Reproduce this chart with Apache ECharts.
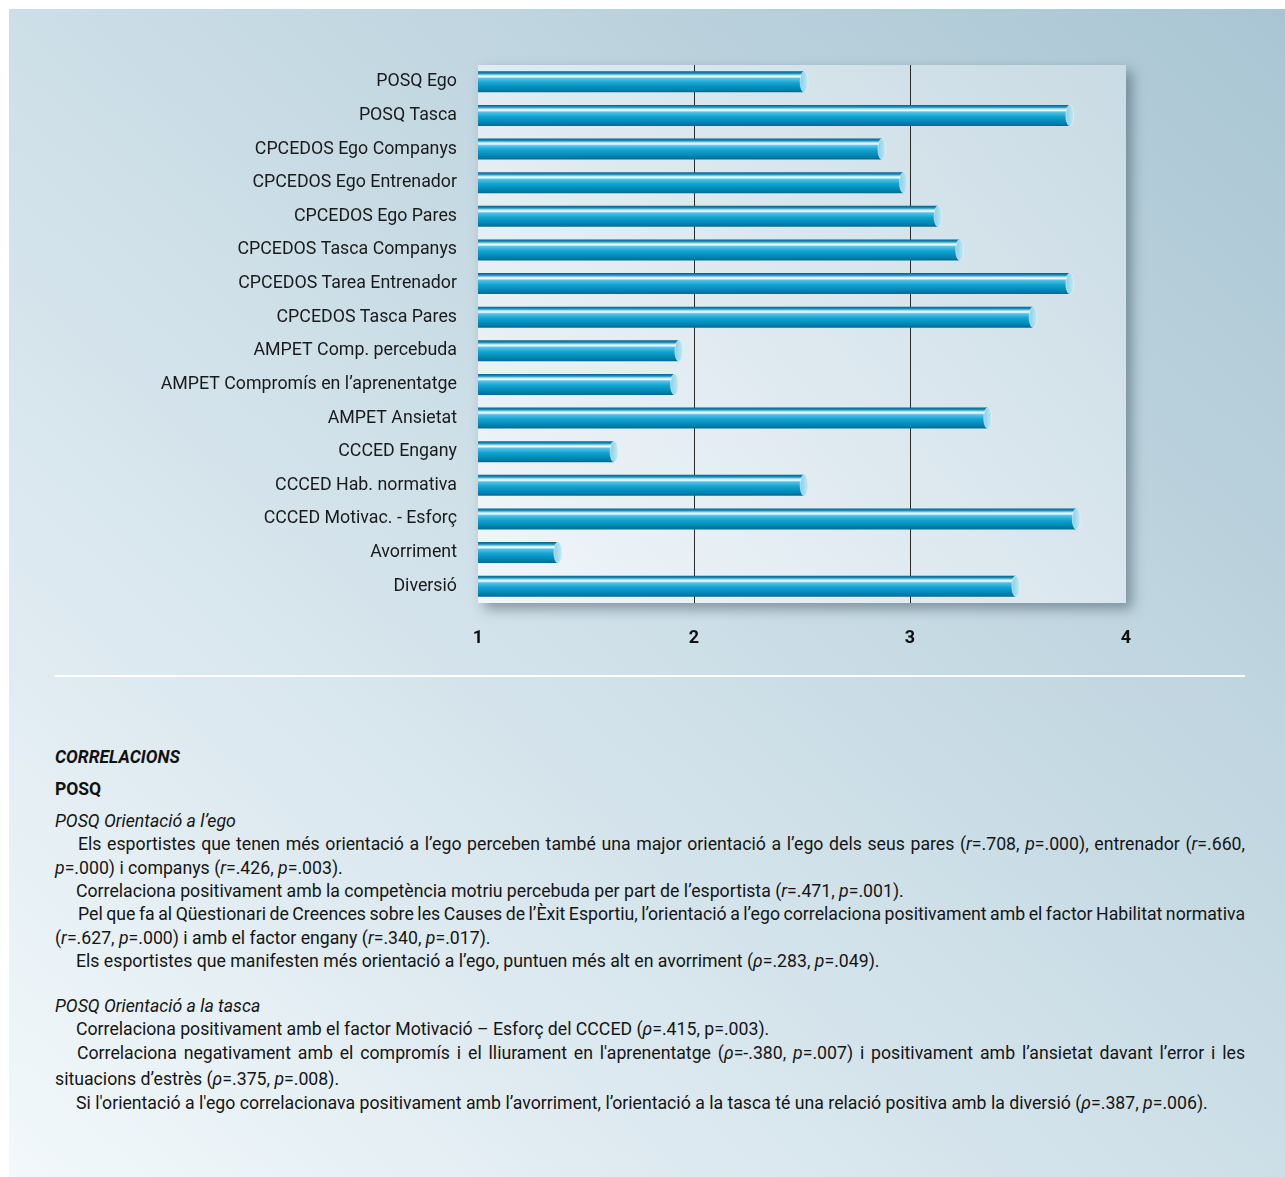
<!DOCTYPE html>
<html>
<head>
<meta charset="utf-8">
<script src="https://cdn.jsdelivr.net/npm/echarts@6/dist/echarts.min.js"></script>
<style>
  html, body { margin: 0; padding: 0; background: #ffffff; }
  #page { position: relative; width: 1285px; height: 1177px; overflow: hidden; background: #ffffff; }
  #panel { position: absolute; left: 9px; top: 9px; width: 1276px; height: 1168px;
    background: linear-gradient(to top right, #f2f8fb 0%, #dbe8ef 30%, #c9dce5 55%, #a9c5d3 100%); }
  #chart { position: absolute; left: 0; top: 0; width: 1285px; height: 670px; }
  #rule { position: absolute; left: 55px; top: 675px; width: 1190px; height: 2px; background: rgba(255,255,255,0.95); }
  .t { position: absolute; font-family: Roboto, "Liberation Sans", sans-serif; font-size: 17.7px; color: #151515;
       line-height: 22px; white-space: nowrap; }
  .h1 { font-weight: bold; font-style: italic; font-size: 17.5px; color: #111; }
  .h2 { font-weight: bold; font-size: 17.5px; color: #111; }
  .h3 { font-style: italic; }
</style>
</head>
<body>
<div id="page">
  <div id="panel"></div>
  <div id="chart"></div>
  <div id="rule"></div>
  <div id="text"></div>
</div>
<script>
// ---- data ----
var categories = [
  'POSQ Ego',
  'POSQ Tasca',
  'CPCEDOS Ego Companys',
  'CPCEDOS Ego Entrenador',
  'CPCEDOS Ego Pares',
  'CPCEDOS Tasca Companys',
  'CPCEDOS Tarea Entrenador',
  'CPCEDOS Tasca Pares',
  'AMPET Comp. percebuda',
  'AMPET Compromís en l\u2019aprenentatge',
  'AMPET Ansietat',
  'CCCED Engany',
  'CCCED Hab. normativa',
  'CCCED Motivac. - Esforç',
  'Avorriment',
  'Diversió'
];
var values = [2.51, 3.74, 2.87, 2.97, 3.13, 3.23, 3.74, 3.57, 1.93, 1.91, 3.36, 1.63, 2.51, 3.77, 1.37, 3.49];
var xTicks = [1, 2, 3, 4];

// ---- text lines ----
var textLines = [
  {y: 757, x: 55, cls: 'h1', html: 'CORRELACIONS'},
  {y: 789, x: 55, cls: 'h2', html: 'POSQ'},
  {y: 821, x: 55, cls: 'h3', html: 'POSQ Orientació a l\u2019ego'},
  {y: 844, x: 78, w: 1167, html: 'Els esportistes que tenen més orientació a l\u2019ego perceben també una major orientació a l\u2019ego dels seus pares (<i>r</i>=.708, <i>p</i>=.000), entrenador (<i>r</i>=.660,'},
  {y: 868, x: 55, html: '<i>p</i>=.000) i companys (<i>r</i>=.426, <i>p</i>=.003).'},
  {y: 891, x: 76, html: 'Correlaciona positivament amb la competència motriu percebuda per part de l\u2019esportista (<i>r</i>=.471, <i>p</i>=.001).'},
  {y: 914, x: 78, w: 1167, html: 'Pel que fa al Qüestionari de Creences sobre les Causes de l\u2019Èxit Esportiu, l\u2019orientació a l\u2019ego correlaciona positivament amb el factor Habilitat normativa'},
  {y: 938, x: 55, html: '(<i>r</i>=.627, <i>p</i>=.000) i amb el factor engany (<i>r</i>=.340, <i>p</i>=.017).'},
  {y: 961, x: 76, html: 'Els esportistes que manifesten més orientació a l\u2019ego, puntuen més alt en avorriment (<i>\u03c1</i>=.283, <i>p</i>=.049).'},
  {y: 1006, x: 55, cls: 'h3', html: 'POSQ Orientació a la tasca'},
  {y: 1029, x: 76, html: 'Correlaciona positivament amb el factor Motivació \u2013 Esforç del CCCED (<i>\u03c1</i>=.415, p=.003).'},
  {y: 1053, x: 77, w: 1168, html: 'Correlaciona negativament amb el compromís i el lliurament en l\'aprenentatge (<i>\u03c1</i>=-.380, <i>p</i>=.007) i positivament amb l\u2019ansietat davant l\u2019error i les'},
  {y: 1079, x: 55, html: 'situacions d\u2019estrès (<i>\u03c1</i>=.375, <i>p</i>=.008).'},
  {y: 1103, x: 76, html: 'Si l\'orientació a l\'ego correlacionava positivament amb l\u2019avorriment, l\u2019orientació a la tasca té una relació positiva amb la diversió (<i>\u03c1</i>=.387, <i>p</i>=.006).'}
];
var tc = document.getElementById('text');
textLines.forEach(function (l) {
  var d = document.createElement('div');
  d.className = 't ' + (l.cls || '');
  d.style.left = l.x + 'px';
  d.style.top = (l.y - 11) + 'px';
  d.innerHTML = l.html;
  tc.appendChild(d);
  if (l.w) {
    // justify a single line by spreading the word gaps
    var natural = d.getBoundingClientRect().width;
    var gaps = (d.textContent.match(/ /g) || []).length;
    if (gaps > 0) d.style.wordSpacing = ((l.w - natural) / gaps) + 'px';
  }
});

// ---- chart ----
var chart = echarts.init(document.getElementById('chart'), null, {renderer: 'canvas'});
var barGrad = new echarts.graphic.LinearGradient(0, 0, 0, 1, [
  {offset: 0, color: '#00628a'},
  {offset: 0.1, color: '#1c8fbb'},
  {offset: 0.2, color: '#bfeaf8'},
  {offset: 0.26, color: '#f2fbff'},
  {offset: 0.34, color: '#55c2e6'},
  {offset: 0.55, color: '#12a4d3'},
  {offset: 0.8, color: '#0389b6'},
  {offset: 1, color: '#006b94'}
]);
var capGrad = new echarts.graphic.LinearGradient(0, 0, 1, 0, [
  {offset: 0, color: '#8ccde3'},
  {offset: 1, color: '#c7e9f4'}
]);
chart.setOption({
  animation: false,
  grid: {
    left: 478, top: 65, width: 648, height: 538,
    show: true,
    borderWidth: 0,
    backgroundColor: new echarts.graphic.LinearGradient(0, 1, 1, 0, [
      {offset: 0, color: '#f1f6fa'},
      {offset: 1, color: '#c9dbe4'}
    ]),
    shadowColor: 'rgba(40,60,75,0.45)',
    shadowBlur: 12,
    shadowOffsetX: 6,
    shadowOffsetY: 6
  },
  xAxis: {
    type: 'value', min: xTicks[0], max: xTicks[xTicks.length - 1], interval: 1,
    axisLine: {show: false}, axisTick: {show: false},
    axisLabel: {fontFamily: 'Roboto, sans-serif', fontWeight: 'bold', fontSize: 18, color: '#111', margin: 26},
    splitLine: {show: true, showMinLine: false, showMaxLine: false, lineStyle: {color: '#2a2a2a', width: 1}}
  },
  yAxis: {
    type: 'category', inverse: true, data: categories,
    axisLine: {show: false}, axisTick: {show: false},
    axisLabel: {fontFamily: 'Roboto, sans-serif', fontSize: 17.8, color: '#1a1a1a', margin: 21},
    splitLine: {show: false}
  },
  series: [
    {
      type: 'bar', data: values, barWidth: 21, clip: true,
      itemStyle: {color: barGrad}
    },
    {
      type: 'scatter', z: 3,
      data: values.map(function (v, i) { return [v, i]; }),
      symbol: 'circle', symbolSize: [8, 21],
      itemStyle: {color: capGrad, borderColor: '#e2f5fb', borderWidth: 0.5, opacity: 1},
      emphasis: {disabled: true}
    }
  ]
});
</script>
</body>
</html>
